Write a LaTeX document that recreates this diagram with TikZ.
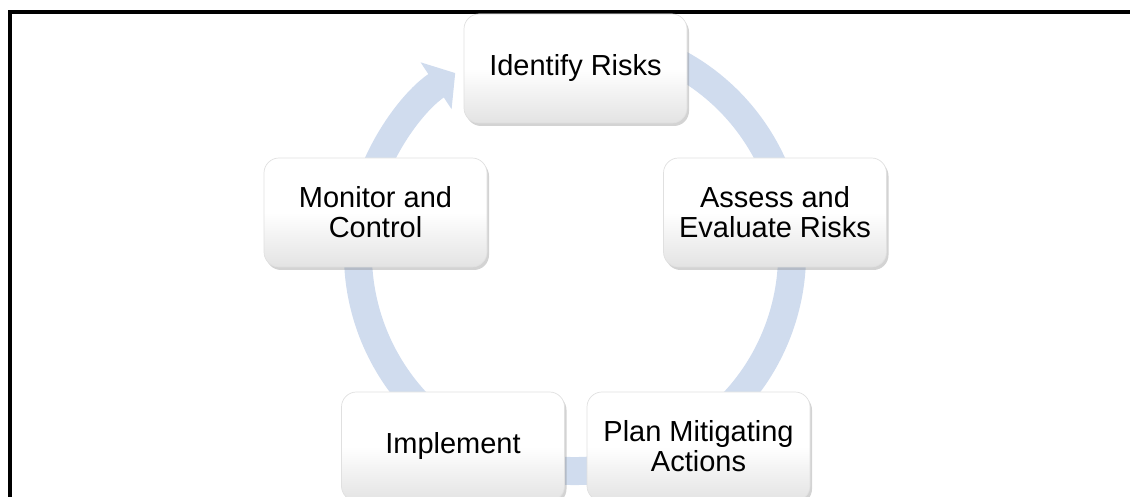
\documentclass[tikz,border=0pt]{standalone}
\usepackage{fontspec}
\setmainfont{Liberation Sans}
\usetikzlibrary{arrows.meta,shadows}
\definecolor{anillo}{RGB}{208,220,238}

\begin{document}
\begin{tikzpicture}[
    caja/.style={rectangle, rounded corners=0.3cm, minimum width=4.46cm, minimum height=2.18cm,
        draw=black!12, thin, top color=white, bottom color=black!11, middle color=white,
        drop shadow={opacity=0.35, shadow xshift=0.04cm, shadow yshift=-0.06cm},
        align=center, text=black, font=\fontsize{16.5}{17}\selectfont}
]
    % Area del dibujo
    \useasboundingbox (0,0) rectangle (22.6,9.94);

    % Marco
    \draw[black, line width=2.2pt] (0.2,0) -- (0.2,9.70) -- (22.6,9.70);

    % Anillo con flecha
    \coordinate (centro) at (11.5,4.86);
    \draw[anillo, line width=0.56cm, -{Triangle[length=0.46cm, width=1.1cm]}]
        (centro) ++(70:4.34) arc (70:-236.5:4.34);

    % Cajas
    \node[caja] (identificar) at (11.51,8.57) {Identify Risks};
    \node[caja] (evaluar) at (15.5,5.69) {Assess and\\Evaluate Risks};
    \node[caja] (planificar) at (13.97,1.01) {Plan Mitigating\\Actions};
    \node[caja] (implementar) at (9.06,1.01) {Implement};
    \node[caja] (monitorear) at (7.51,5.69) {Monitor and\\Control};
\end{tikzpicture}
\end{document}
